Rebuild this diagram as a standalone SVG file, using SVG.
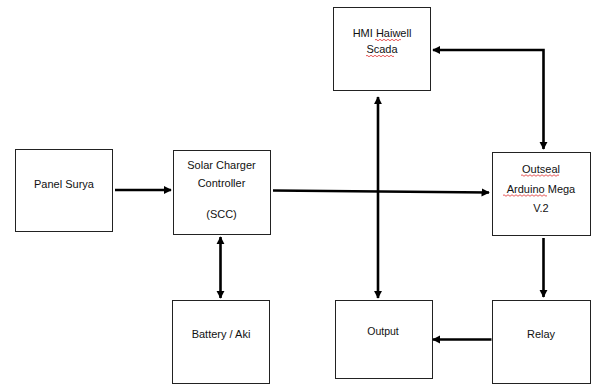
<svg xmlns="http://www.w3.org/2000/svg" width="592" height="384" viewBox="0 0 592 384">
<style>
.box{fill:#fff;stroke:#222;stroke-width:1}
.t{font-family:"Liberation Sans",Arial,sans-serif;font-size:11px;fill:#111;text-anchor:middle}
.c{stroke:#000;stroke-width:2.6;fill:none}
.sq{stroke:#e03030;stroke-width:0.8;fill:none}
</style>
<defs>
<marker id="ah" viewBox="0 0 10 10" refX="9" refY="5" markerWidth="3.2" markerHeight="3.2" orient="auto-start-reverse" markerUnits="strokeWidth">
<path d="M0,0 L10,5 L0,10 z" fill="#000"/>
</marker>
</defs>
<rect width="592" height="384" fill="#fff"/>
<g id="panel"><rect class="box" x="15.5" y="149.5" width="97" height="82"/><text class="t" x="64" y="188">Panel Surya</text></g>
<g id="scc"><rect class="box" x="173.5" y="150.5" width="97" height="84"/><text class="t" x="221.5" y="169">Solar Charger</text><text class="t" x="221.5" y="187">Controller</text><text class="t" x="221.5" y="218">(SCC)</text></g>
<g id="hmi"><rect class="box" x="333.5" y="7.5" width="97" height="83"/><text class="t" x="382" y="37">HMI Haiwell</text><text class="t" x="382" y="53">Scada</text>
<path class="sq" d="M375,40 q1,-1.5 2,0 t2,0 t2,0 t2,0 t2,0 t2,0 t2,0 t2,0 t2,0 t2,0 t2,0 t2,0 t2,0"/>
<path class="sq" d="M366,56 q1,-1.5 2,0 t2,0 t2,0 t2,0 t2,0 t2,0 t2,0 t2,0 t2,0 t2,0 t2,0 t2,0 t2,0 t2,0"/></g>
<g id="outseal"><rect class="box" x="492.5" y="152.5" width="98" height="83"/><text class="t" x="541" y="173">Outseal</text><text class="t" x="541" y="193">Arduino Mega</text><text class="t" x="541" y="212">V.2</text>
<path class="sq" d="M521,175.5 q1,-1.5 2,0 t2,0 t2,0 t2,0 t2,0 t2,0 t2,0 t2,0 t2,0 t2,0 t2,0 t2,0 t2,0 t2,0 t2,0 t2,0 t2,0 t2,0 t2,0"/>
<path class="sq" d="M503,195.5 q1,-1.5 2,0 t2,0 t2,0 t2,0 t2,0 t2,0 t2,0 t2,0 t2,0 t2,0 t2,0 t2,0 t2,0 t2,0 t2,0 t2,0 t2,0 t2,0 t2,0 t2,0 t2,0 t2,0"/></g>
<g id="battery"><rect class="box" x="172.5" y="300.5" width="97" height="83"/><text class="t" x="221" y="338">Battery / Aki</text></g>
<g id="output"><rect class="box" x="335.5" y="300.5" width="97" height="78"/><text class="t" x="383" y="335" style="font-size:10.5px">Output</text></g>
<g id="relay"><rect class="box" x="492.5" y="300.5" width="98" height="83"/><text class="t" x="541" y="338">Relay</text></g>
<g id="connectors">
<path class="c" d="M115,190 L171,190" marker-end="url(#ah)"/>
<path class="c" d="M273,190.5 L489,192.5" marker-end="url(#ah)"/>
<path class="c" d="M220.5,237 L220.5,298" marker-start="url(#ah)" marker-end="url(#ah)"/>
<path class="c" d="M378,97 L378,298" marker-start="url(#ah)" marker-end="url(#ah)"/>
<path class="c" d="M433,50 L543.5,50 L543.5,149" marker-start="url(#ah)" marker-end="url(#ah)"/>
<path class="c" d="M543.5,238 L543.5,297" marker-end="url(#ah)"/>
<path class="c" d="M491.5,339.5 L433,339.5" marker-end="url(#ah)"/>
</g>
</svg>
